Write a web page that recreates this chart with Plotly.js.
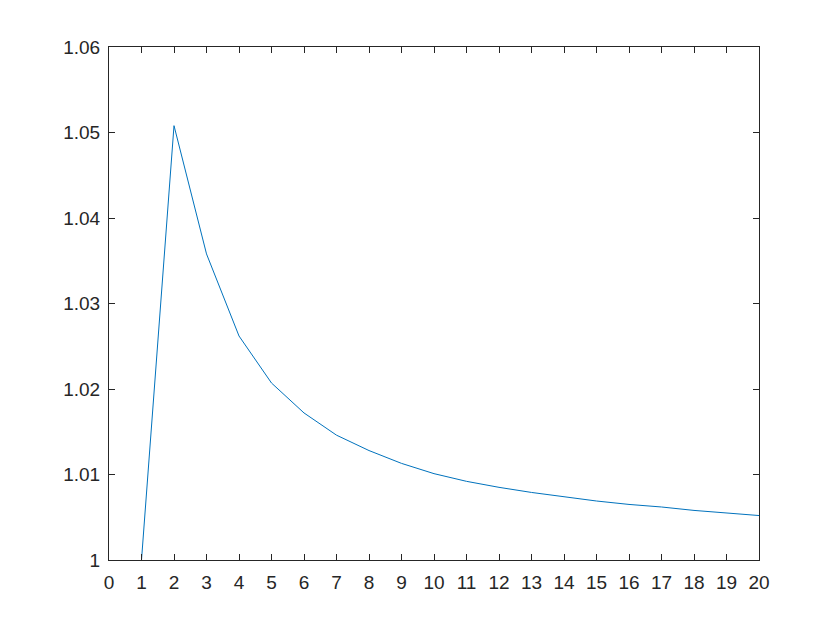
<!DOCTYPE html>
<html>
<head>
<meta charset="utf-8">
<script src="https://cdn.plot.ly/plotly-3.0.1.min.js"></script>
<style>html,body{margin:0;padding:0;background:#fff;}#chart{width:840px;height:630px;}</style>
</head>
<body>
<div id="chart"></div>
<script>
const xValues = [1,2,3,4,5,6,7,8,9,10,11,12,13,14,15,16,17,18,19,20];
const yValues = [1.0, 1.0508, 1.0358, 1.0262, 1.0207, 1.0172, 1.0146, 1.0128, 1.0113, 1.0101,
                 1.0092, 1.0085, 1.0079, 1.0074, 1.0069, 1.0065, 1.0062, 1.0058, 1.0055, 1.0052];
const xTickVals = [0,1,2,3,4,5,6,7,8,9,10,11,12,13,14,15,16,17,18,19,20];
const yTickVals = [1, 1.01, 1.02, 1.03, 1.04, 1.05, 1.06];
const yTickText = ['1','1.01','1.02','1.03','1.04','1.05','1.06'];

const axisCommon = {
  showline: true, mirror: 'ticks', linecolor: '#262626', linewidth: 1,
  ticks: 'inside', ticklen: 6, tickwidth: 1, tickcolor: '#262626',
  showgrid: false, zeroline: false,
  tickfont: {family: 'Liberation Sans, Arial, sans-serif', size: 19, color: '#262626'}
};

const trace = {
  x: xValues, y: yValues, type: 'scatter', mode: 'lines',
  line: {color: '#0072BD', width: 1}
};

const layout = {
  width: 840, height: 630,
  margin: {l: 109, r: 81, t: 47, b: 70},
  paper_bgcolor: '#ffffff', plot_bgcolor: '#ffffff',
  showlegend: false,
  xaxis: Object.assign({}, axisCommon, {range: [0, 20], tickvals: xTickVals, ticklabelstandoff: 5}),
  yaxis: Object.assign({}, axisCommon, {range: [1, 1.06], tickvals: yTickVals, ticktext: yTickText, ticklabelstandoff: 4})
};

Plotly.newPlot('chart', [trace], layout, {staticPlot: true, displayModeBar: false});
</script>
</body>
</html>
